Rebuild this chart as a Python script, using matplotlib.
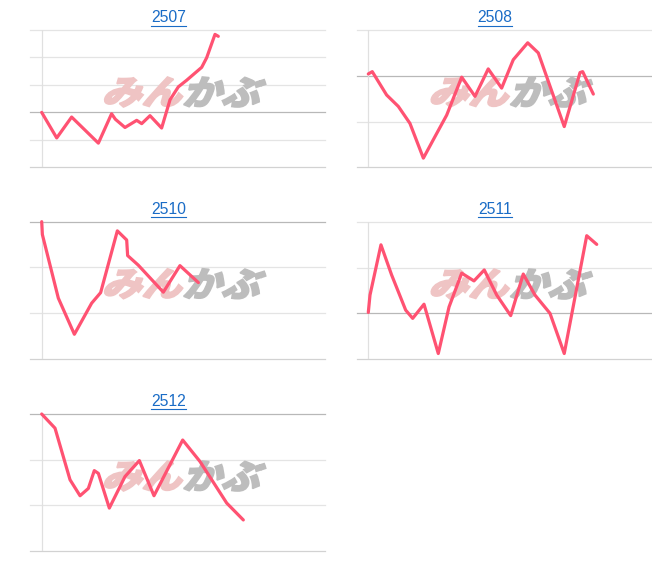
import matplotlib
matplotlib.use("Agg")
import matplotlib.pyplot as plt
from matplotlib.textpath import TextPath
from matplotlib.patches import PathPatch
from matplotlib.font_manager import FontProperties
from matplotlib.transforms import Affine2D
from matplotlib.lines import Line2D

W, H = 652, 574

# codes shown in the five mini charts
codes = ["2507", "2508", "2510", "2511", "2512"]

# x = minutes since open (0..300), y = change in grid steps from the base line
x_2507 = [0, 15.9, 31.7, 60, 74, 78, 88.2, 100.6, 105.9, 114.7, 127, 135.9, 144.7, 153.5, 160.6, 169.4, 174.7, 183.5, 187]
y_2507 = [0, -0.93, -0.17, -1.12, -0.05, -0.25, -0.55, -0.29, -0.41, -0.12, -0.57, 0.46, 0.93, 1.17, 1.38, 1.64, 1.99, 2.84, 2.77]

x_2508 = [0, 4.2, 19.4, 31.8, 44.1, 58.3, 70.6, 83, 98.9, 113, 127, 141.2, 153.5, 168.8, 180, 207.5, 224.2, 227, 238.3]
y_2508 = [0.04, 0.09, -0.42, -0.67, -1.04, -1.80, -1.33, -0.86, -0.03, -0.45, 0.15, -0.27, 0.35, 0.72, 0.50, -1.11, 0.07, 0.09, -0.40]

x_2510 = [0, 0.7, 17.6, 34.6, 52.9, 62.4, 80.1, 90, 91, 102.3, 128.8, 146.4, 165.9]
y_2510 = [0, -0.28, -1.67, -2.46, -1.78, -1.55, -0.20, -0.40, -0.74, -0.95, -1.54, -0.96, -1.33]

x_2511 = [0, 1.8, 13.4, 24.7, 39.6, 47, 59, 74.1, 85.5, 98.9, 111.9, 122.8, 136, 150.8, 164.1, 176.5, 192.4, 207.5, 231.3, 241.9]
y_2511 = [0.02, 0.40, 1.50, 0.84, 0.07, -0.11, 0.20, -0.88, 0.14, 0.88, 0.71, 0.95, 0.40, -0.05, 0.86, 0.40, 0, -0.88, 1.70, 1.51]

x_2512 = [0, 14.1, 30, 40.6, 49.4, 55.7, 60, 71.6, 88.2, 103.4, 118.9, 149.3, 167.6, 195.9, 213.5]
y_2512 = [0, -0.31, -1.44, -1.79, -1.63, -1.24, -1.30, -2.06, -1.37, -1.02, -1.79, -0.57, -1.04, -1.95, -2.32]

xs = [x_2507, x_2508, x_2510, x_2511, x_2512]
ys = [y_2507, y_2508, y_2510, y_2511, y_2512]
ylims = [(-2, 3), (-2, 1), (-3, 0), (-1, 2), (-3, 0)]

# panel boxes in pixels: (left edge, y-axis line, right edge, top, bottom)
boxes = [
    (30, 41.7, 325, 30, 167.3),
    (357, 368.3, 651.6, 30, 167.3),
    (30, 41.7, 325, 221.7, 359),
    (357, 368.3, 651.6, 222, 359),
    (30, 41.7, 325, 414, 551),
]
title_pos = [(168.7, 17.5), (495, 17.5), (168.3, 209), (495.3, 209.5), (168.3, 401)]

LINE = "#ff5272"
fp = FontProperties(family="Noto Sans CJK JP", weight="black")


def stamp(fig, ax, text, color, x0, y0, x1, y1):
    # skewed text logo squeezed into a pixel box (y from the top)
    p = TextPath((0, 0), text, size=40, prop=fp)
    p = Affine2D().skew_deg(16, 0).transform_path(p)
    e = p.get_extents()
    t = (Affine2D().translate(-e.x0, -e.y0)
         .scale((x1 - x0) / e.width, (y1 - y0) / e.height)
         .translate(x0, H - y1).scale(1 / W, 1 / H))
    patch = PathPatch(t.transform_path(p), transform=fig.transFigure,
                      fc=color, ec=color, lw=1.2, zorder=1.5, clip_on=False)
    ax.add_patch(patch)


fig = plt.figure(figsize=(W / 100, H / 100), dpi=100)

for i in range(5):
    left, axl, right, top, bot = boxes[i]
    ax = fig.add_axes([left / W, 1 - bot / H, (right - left) / W, (bot - top) / H])
    scale = 300 / (right - axl)
    ax.set_xlim(-(axl - left) * scale, 300)
    lo, hi = ylims[i]
    ax.set_ylim(lo, hi)
    for s in ax.spines.values():
        s.set_visible(False)
    ax.set_xticks([])
    ax.set_yticks([])
    for g in range(lo, hi + 1):
        if g == 0:
            c = "#b8b8b8"
        elif g == lo:
            c = "#d2d2d2"
        else:
            c = "#e4e4e4"
        ax.axhline(g, color=c, lw=0.9, zorder=1, clip_on=False)
    ax.axvline(0, color="#e0e0e0", lw=0.9, zorder=1)

    # watermark
    stamp(fig, ax, "みん", "#efc4c4", axl + 63, top + 47, axl + 141, top + 77)
    stamp(fig, ax, "かぶ", "#bdbdbd", axl + 142, top + 47, axl + 224, top + 77)

    ax.plot(xs[i], ys[i], color=LINE, lw=2.3, zorder=3, clip_on=False,
            solid_joinstyle="round", solid_capstyle="round")

    cx, cy = title_pos[i]
    fig.text(cx / W, 1 - cy / H, codes[i], ha="center", va="center",
             fontsize=11.3, color="#1a6cc6", family="Liberation Sans")

# underline the titles like links
fig.canvas.draw()
r = fig.canvas.get_renderer()
for t in fig.texts:
    bb = t.get_window_extent(r)
    yline = (bb.y0 - 0.5) / H
    fig.add_artist(Line2D([bb.x0 / W, bb.x1 / W], [yline, yline],
                          transform=fig.transFigure, color="#1a6cc6", lw=0.8))

fig.savefig("out.png", dpi=100)
